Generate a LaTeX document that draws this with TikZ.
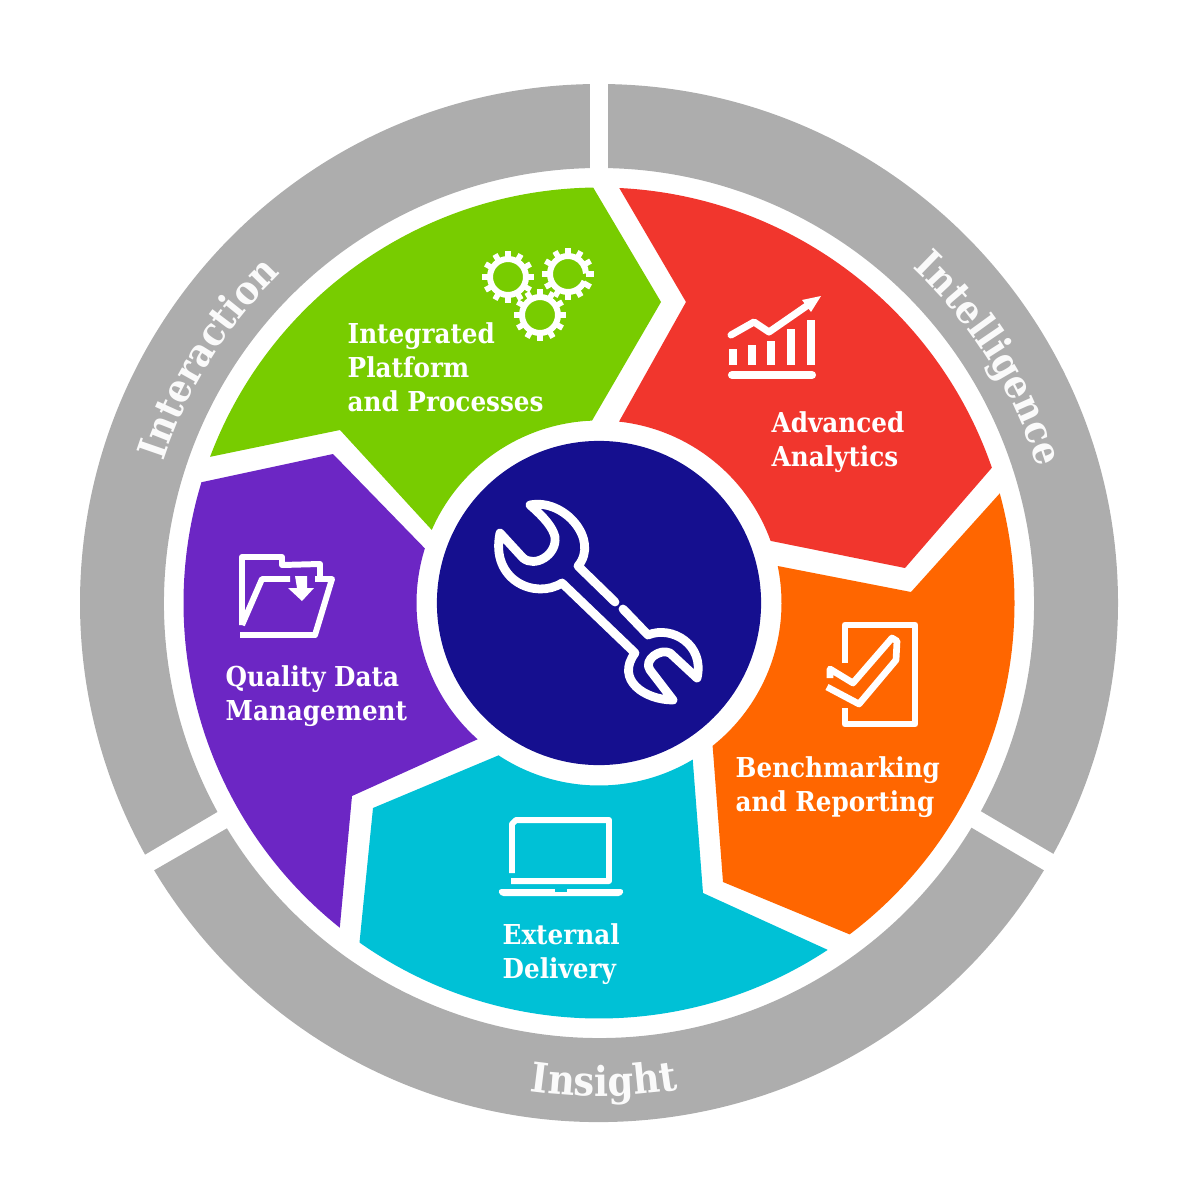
\documentclass[tikz,border=0pt]{standalone}
\usepackage{fontspec}
\setmainfont{DejaVu Serif Condensed}
\usepackage{xcolor}
\usetikzlibrary{calc, decorations.text}
\definecolor{ringgrey}{RGB}{173, 173, 173}
\definecolor{hubnavy}{RGB}{21, 15, 143}
\definecolor{leafgreen}{RGB}{120, 204, 0}
\definecolor{alertred}{RGB}{241, 54, 45}
\definecolor{deeporange}{RGB}{255, 102, 0}
\definecolor{skycyan}{RGB}{0, 193, 214}
\definecolor{royalpurple}{RGB}{108, 38, 196}

\begin{document}
\begin{tikzpicture}[
    x=0.01cm, y=-0.01cm,
    wedgeseg/.style={fill=#1},
    ringseg/.style={fill=ringgrey},
    seglabel/.style={
        anchor=west, inner sep=0pt, align=left, text=white,
        font=\fontsize{7.8}{9.67}\selectfont\bfseries
    },
    ringlabel/.style 2 args={
        decorate, decoration={
            text along path, text align=center,
            text={|\fontsize{#1}{14}\selectfont\bfseries\color{white!94!ringgrey}|#2}
        }
    },
    iconline/.style={draw=white, line width=1.7pt, line join=round, fill=none},
    wrenchline/.style={draw=white, line width=2.5pt, line join=round, line cap=round}
]

\useasboundingbox (0,0) rectangle (1200,1200);
\coordinate (c) at (599,603);

% ==============================================================================
% OUTER GREY RING
% ==============================================================================
\fill[ringseg] ($(c)+(269:519)$) arc[start angle=269, end angle=151, radius=519]
    -- ($(c)+(151.3:435)$) arc[start angle=151.3, end angle=268.8, radius=435] -- cycle;
\fill[ringseg] ($(c)+(271:519)$) arc[start angle=271, end angle=388.9, radius=519]
    -- ($(c)+(388.6:435)$) arc[start angle=388.6, end angle=271.2, radius=435] -- cycle;
\fill[ringseg] ($(c)+(31:519)$) arc[start angle=31, end angle=149, radius=519]
    -- ($(c)+(148.8:435)$) arc[start angle=148.8, end angle=31.1, radius=435] -- cycle;

\path[ringlabel={11.2}{Interaction}] ($(c)+(190:458)$) arc[start angle=190, end angle=234, radius=458];
\path[ringlabel={11.2}{Intelligence}] ($(c)+(305.5:459)$) arc[start angle=305.5, end angle=350.5, radius=459];
\path[ringlabel={11.7}{Insight}] ($(c)+(109.4:493)$) arc[start angle=109.4, end angle=69.4, radius=493];

% ==============================================================================
% FIVE COLOURED SEGMENTS
% ==============================================================================
\fill[wedgeseg=leafgreen] ($(c)+(200.6:415.5)$) arc[start angle=200.6, end angle=269.2, radius=415.5]
    -- (661,302) -- ($(c)+(267.8:182.5)$) arc[start angle=267.8, end angle=203.6, radius=182.5]
    -- (340,430) -- cycle;
\fill[wedgeseg=alertred] ($(c)+(272.8:415.5)$) arc[start angle=272.8, end angle=341, radius=415.5]
    -- (905,568) -- ($(c)+(340.1:182.5)$) arc[start angle=340.1, end angle=276.3, radius=182.5]
    -- (686,302) -- cycle;
\fill[wedgeseg=deeporange] ($(c)+(-15.3:415.5)$) arc[start angle=-15.3, end angle=52.9, radius=415.5]
    -- (723,882) -- ($(c)+(51.5:182.5)$) arc[start angle=51.5, end angle=-11.7, radius=182.5]
    -- (911,592) -- cycle;
\fill[wedgeseg=skycyan] ($(c)+(56.6:415.5)$) arc[start angle=56.6, end angle=125.2, radius=415.5]
    -- (373,808) -- ($(c)+(123.4:182.5)$) arc[start angle=123.4, end angle=59.1, radius=182.5]
    -- (703,893) -- cycle;
\fill[wedgeseg=royalpurple] ($(c)+(128.6:415.5)$) arc[start angle=128.6, end angle=196.9, radius=415.5]
    -- (333,454) -- ($(c)+(197.4:182.5)$) arc[start angle=197.4, end angle=131.7, radius=182.5]
    -- (352,796) -- cycle;

\node[seglabel] (platform) at (347,367) {Integrated\\Platform\\and Processes};
\node[seglabel] (analytics) at (771,442) {Advanced\\Analytics};
\node[seglabel] (reporting) at (735,787) {Benchmarking\\and Reporting};
\node[seglabel] (delivery) at (502,954) {External\\Delivery};
\node[seglabel] (quality) at (225,696) {Quality Data\\Management};

% ==============================================================================
% HUB WITH WRENCH
% ==============================================================================
\node[circle, fill=hubnavy, minimum size=3.24cm, inner sep=0pt] (hub) at (c) {};

\draw[wrenchline] (623,609) -- (648,635) .. controls (672,625) and (705,645) .. (697,678)
    -- (670,653) .. controls (660,648) and (643,660) .. (650,670) -- (673,700)
    .. controls (645,700) and (615,680) .. (635,653) -- (562,583)
    .. controls (535,600) and (490,580) .. (500,533) -- (523,558)
    .. controls (535,568) and (557,555) .. (555,537)
    .. controls (553,528) and (545,518) .. (530,505)
    .. controls (564,498) and (600,540) .. (578,566) -- (615,602);

% ==============================================================================
% ICONS
% ==============================================================================
% gears
\foreach \gx/\gy/\gs/\ge in {508/277/0/360, 568/274/24/358, 540/315/0/360} {
    \draw[iconline] ($(\gx,\gy)+(\gs:18)$) arc[start angle=\gs, end angle=\ge, radius=18];
    \foreach \ang in {0,30,...,330}
        \draw[draw=white, line width=1.6pt] ($(\gx,\gy)+(\ang:18)$) -- ($(\gx,\gy)+(\ang:26)$);
}

% chart
\foreach \bx/\bt in {733/349, 752/345, 771/341, 791/329, 811/320}
    \draw[draw=white, line width=2.3pt] (\bx,\bt) -- (\bx,365);
\draw[draw=white, line width=2.3pt, line cap=round] (732,375) -- (812,375);
\draw[iconline, line width=2pt, line cap=round] (731,335) -- (754,322) -- (769,332) -- (808,305);
\fill[white] (821,296) -- (802,300) -- (811,312) -- cycle;

% folder
\draw[iconline] (242,625) -- (242,557) -- (282,557) -- (282,565) -- (320,564) -- (320,578);
\draw[iconline] (290,579) -- (262,579) -- (242,625);
\draw[iconline] (315,579) -- (332,579) -- (315,635) -- (240,635);
\fill[white] (295,576) -- (307,576) -- (307,588) -- (314,588) -- (302,601) -- (288,588) -- (297,588) -- cycle;

% tick sheet
\draw[iconline, line width=1.9pt] (845,663) -- (845,625) -- (915,625) -- (915,724) -- (845,724) -- (845,708);
\draw[iconline, line width=1.9pt] (830,678) -- (830,669) -- (853,683) -- (892,638) -- (897,641)
    -- (896,660) -- (859,704) -- (827,687);

% laptop
\draw[iconline] (512,873) -- (512,824) -- (516,820) -- (609,820) -- (609,881) -- (511,881);
\fill[white, rounded corners=1pt] (498,889) -- (624,889) -- (622,896) -- (500,896) -- cycle;
\fill[skycyan] (555,889) rectangle (567,892);

\end{tikzpicture}
\end{document}
